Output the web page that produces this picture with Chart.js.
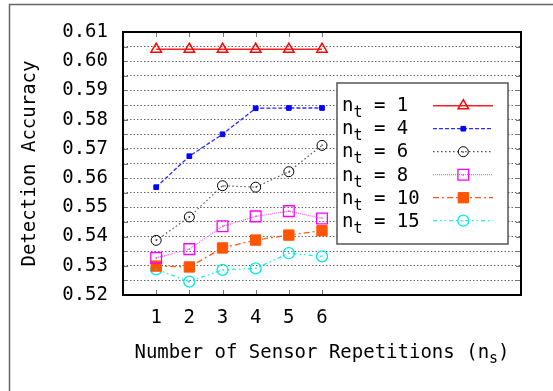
<!DOCTYPE html>
<html>
<head>
<meta charset="utf-8">
<script src="https://cdn.jsdelivr.net/npm/chart.js@4.4.0/dist/chart.umd.min.js"></script>
<style>
  html, body { margin: 0; padding: 0; background: #fff; overflow: hidden; }
  canvas { display: block; }
</style>
</head>
<body>
<canvas id="c" width="553" height="391"></canvas>
<script>
// ---- data ----
const xValues = [1, 2, 3, 4, 5, 6];
const xTickValues = [1, 2, 3, 4, 5, 6];
const xTickLabels = ['1', '2', '3', '4', '5', '6'];
const yTickValues = [0.52, 0.525, 0.53, 0.535, 0.54, 0.545, 0.55, 0.555, 0.56, 0.565, 0.57, 0.575, 0.58, 0.585, 0.59, 0.595, 0.60, 0.605, 0.61];
const yTickLabels = ['0.52', '', '0.53', '', '0.54', '', '0.55', '', '0.56', '', '0.57', '', '0.58', '', '0.59', '', '0.60', '', '0.61'];
const seriesLabels = ['1', '4', '6', '8', '10', '15'];
const nt1  = [0.6041, 0.6041, 0.6041, 0.6041, 0.6041, 0.6041];
const nt4  = [0.5569, 0.5675, 0.5750, 0.5839, 0.5840, 0.5840];
const nt6  = [0.5387, 0.5467, 0.5574, 0.5569, 0.5622, 0.5712];
const nt8  = [0.5327, 0.5357, 0.5435, 0.5469, 0.5487, 0.5462];
const nt10 = [0.5299, 0.5296, 0.5361, 0.5388, 0.5405, 0.5420];
const nt15 = [0.5288, 0.5246, 0.5286, 0.5291, 0.5343, 0.5332];
const yTitle = 'Detection Accuracy';
const xTitleMain = 'Number of Sensor Repetitions (n';
const xTitleSub = 's';
const xTitleEnd = ')';

const FONT = '"DejaVu Sans Mono", "Liberation Mono", monospace';
const seriesValues = [nt1, nt4, nt6, nt8, nt10, nt15];
const styles = [
  { color: '#ff2020', dash: [],              width: 1.5, point: 'triangle', radius: 6,   fill: 'rgba(0,0,0,0)', stroke: '#ff0000', pw: 1.5, dot: false },
  { color: '#2a2aff', dash: [4, 2],          width: 1.3, point: 'rect',     radius: 3.3, fill: '#0000ff',       stroke: '#0000ff', pw: 1,   dot: false },
  { color: '#555555', dash: [1.5, 2.5],      width: 1.2, point: 'circle',   radius: 5,   fill: 'rgba(0,0,0,0)', stroke: '#000000', pw: 1,   dot: true },
  { color: '#ff55ff', dash: [1, 1],          width: 1.2, point: 'rect',     radius: 7.6, fill: 'rgba(0,0,0,0)', stroke: '#ff00ff', pw: 1.3, dot: true },
  { color: '#ff5a1a', dash: [6, 3, 2, 3],    width: 1.3, point: 'rect',     radius: 7.3, fill: '#ff5500',       stroke: '#ff5500', pw: 1,   dot: false },
  { color: '#22eeee', dash: [4, 3, 1.5, 3, 1.5, 3], width: 1.3, point: 'circle', radius: 5.5, fill: 'rgba(0,0,0,0)', stroke: '#00e8e8', pw: 1.3, dot: true }
];

const datasets = seriesValues.map((vals, i) => ({
  label: 'n_t = ' + seriesLabels[i],
  data: xValues.map((x, j) => ({ x: x, y: vals[j] })),
  borderColor: styles[i].color,
  borderWidth: styles[i].width,
  borderDash: styles[i].dash,
  pointStyle: styles[i].point,
  pointRadius: styles[i].radius,
  pointBackgroundColor: styles[i].fill,
  pointBorderColor: styles[i].stroke,
  pointBorderWidth: styles[i].pw,
  showLine: true,
  tension: 0,
  fill: false
}));

function marker(ctx, style, r, x, y) {
  ctx.beginPath();
  if (style === 'triangle') {
    ctx.moveTo(x, y - r);
    ctx.lineTo(x + r * Math.cos(Math.PI / 6), y + r / 2);
    ctx.lineTo(x - r * Math.cos(Math.PI / 6), y + r / 2);
    ctx.closePath();
  } else if (style === 'rect') {
    const s = r / Math.SQRT2;
    ctx.rect(x - s, y - s, 2 * s, 2 * s);
  } else {
    ctx.arc(x, y, r, 0, Math.PI * 2);
  }
  ctx.fill();
  ctx.stroke();
}

function centerDot(ctx, color, x, y) {
  ctx.fillStyle = color;
  ctx.fillRect(Math.round(x) - 0.5, Math.round(y) - 0.5, 1.2, 1.2);
}

const decor = {
  id: 'decor',
  beforeDraw(chart) {
    const ctx = chart.ctx;
    ctx.save();
    ctx.fillStyle = '#fff';
    ctx.fillRect(0, 0, chart.width, chart.height);
    ctx.strokeStyle = '#666';
    ctx.lineWidth = 1.5;
    ctx.beginPath();
    ctx.moveTo(9.5, chart.height + 5);
    ctx.lineTo(9.5, 4.5);
    ctx.lineTo(chart.width + 5, 4.5);
    ctx.stroke();
    ctx.restore();
  },
  beforeDatasetsDraw(chart) {
    const ctx = chart.ctx, a = chart.chartArea;
    const xs = chart.scales.x, ys = chart.scales.y;
    ctx.save();
    ctx.strokeStyle = '#777';
    ctx.lineWidth = 1;
    xTickValues.forEach(v => {
      const px = Math.round(xs.getPixelForValue(v)) + 0.5;
      ctx.beginPath(); ctx.moveTo(px, a.top); ctx.lineTo(px, a.top + 5); ctx.stroke();
      ctx.beginPath(); ctx.moveTo(px, a.bottom); ctx.lineTo(px, a.bottom - 5); ctx.stroke();
    });
    yTickValues.forEach(v => {
      const py = Math.round(ys.getPixelForValue(v)) + 0.5;
      ctx.beginPath(); ctx.moveTo(a.left, py); ctx.lineTo(a.left + 5, py); ctx.stroke();
      ctx.beginPath(); ctx.moveTo(a.right, py); ctx.lineTo(a.right - 5, py); ctx.stroke();
    });
    ctx.restore();
  },
  afterDatasetsDraw(chart) {
    const ctx = chart.ctx;
    ctx.save();
    chart.data.datasets.forEach((ds, i) => {
      if (!styles[i].dot) return;
      chart.getDatasetMeta(i).data.forEach(el => centerDot(ctx, styles[i].stroke, el.x, el.y));
    });
    ctx.restore();
  },
  afterDraw(chart) {
    const ctx = chart.ctx, a = chart.chartArea;
    ctx.save();
    ctx.strokeStyle = '#000';
    ctx.lineWidth = 2;
    ctx.strokeRect(a.left, a.top, a.right - a.left, a.bottom - a.top);

    ctx.fillStyle = '#000';
    ctx.font = '19px ' + FONT;
    ctx.textBaseline = 'alphabetic';
    ctx.save();
    ctx.translate(35, (a.top + a.bottom) / 2);
    ctx.rotate(-Math.PI / 2);
    ctx.textAlign = 'center';
    ctx.fillText(yTitle, 0, 0);
    ctx.restore();

    const wMain = ctx.measureText(xTitleMain).width;
    ctx.font = '15px ' + FONT;
    const wSub = ctx.measureText(xTitleSub).width;
    ctx.font = '19px ' + FONT;
    const wEnd = ctx.measureText(xTitleEnd).width;
    const total = wMain + wSub + wEnd;
    const tx = (a.left + a.right) / 2 - total / 2;
    const ty = 357.5;
    ctx.textAlign = 'left';
    ctx.fillText(xTitleMain, tx, ty);
    ctx.font = '15px ' + FONT;
    ctx.fillText(xTitleSub, tx + wMain, ty + 5);
    ctx.font = '19px ' + FONT;
    ctx.fillText(xTitleEnd, tx + wMain + wSub, ty);

    const lx = 337, ly = 83, lw = 171, lh = 161;
    ctx.fillStyle = '#fff';
    ctx.fillRect(lx, ly, lw, lh);
    ctx.strokeStyle = '#555';
    ctx.lineWidth = 1.5;
    ctx.strokeRect(lx, ly, lw, lh);
    chart.data.datasets.forEach((ds, i) => {
      const base = 111 + i * 23.2;
      const lineY = 105.7 + i * 23;
      ctx.fillStyle = '#000';
      ctx.font = '19px ' + FONT;
      ctx.textAlign = 'left';
      const x0 = 342;
      ctx.fillText('n', x0, base);
      const wn = ctx.measureText('n').width;
      ctx.font = '15px ' + FONT;
      ctx.fillText('t', x0 + wn, base + 6);
      const wt = ctx.measureText('t').width;
      ctx.font = '19px ' + FONT;
      ctx.fillText(' = ' + seriesLabels[i], x0 + wn + wt, base);
      ctx.save();
      ctx.strokeStyle = ds.borderColor;
      ctx.lineWidth = ds.borderWidth;
      ctx.setLineDash(ds.borderDash);
      ctx.beginPath(); ctx.moveTo(433, lineY); ctx.lineTo(493, lineY); ctx.stroke();
      ctx.restore();
      ctx.save();
      ctx.fillStyle = ds.pointBackgroundColor;
      ctx.strokeStyle = ds.pointBorderColor;
      ctx.lineWidth = ds.pointBorderWidth;
      ctx.setLineDash([]);
      marker(ctx, ds.pointStyle, ds.pointRadius, 463.3, lineY);
      if (styles[i].dot) centerDot(ctx, styles[i].stroke, 463.3, lineY);
      ctx.restore();
    });
    ctx.restore();
  }
};

new Chart(document.getElementById('c'), {
  type: 'scatter',
  data: { datasets: datasets },
  plugins: [decor],
  options: {
    responsive: false,
    animation: false,
    devicePixelRatio: 1,
    layout: { padding: { left: 0, right: 32, top: 32, bottom: 0 } },
    plugins: { legend: { display: false }, tooltip: { enabled: false } },
    scales: {
      x: {
        type: 'linear', min: 0, max: 12,
        afterBuildTicks: s => { s.ticks = xTickValues.map(v => ({ value: v })); },
        afterFit: s => { s.height = 96; },
        grid: { display: false, drawTicks: false },
        border: { display: false },
        ticks: {
          padding: 12,
          color: '#000',
          font: { family: FONT, size: 19 },
          maxRotation: 0,
          autoSkip: false,
          callback: (v) => { const k = xTickValues.indexOf(v); return k >= 0 ? xTickLabels[k] : ''; }
        }
      },
      y: {
        type: 'linear', min: 0.52, max: 0.61,
        afterBuildTicks: s => { s.ticks = yTickValues.map(v => ({ value: v })); },
        afterFit: s => { s.width = 123; },
        grid: { display: true, drawTicks: false, color: '#666', lineWidth: 1, tickLength: 0 },
        border: { display: false, dash: [1.5, 2] },
        ticks: {
          padding: 15,
          color: '#000',
          font: { family: FONT, size: 19 },
          autoSkip: false,
          callback: (v, idx) => yTickLabels[idx]
        }
      }
    }
  }
});
</script>
</body>
</html>
